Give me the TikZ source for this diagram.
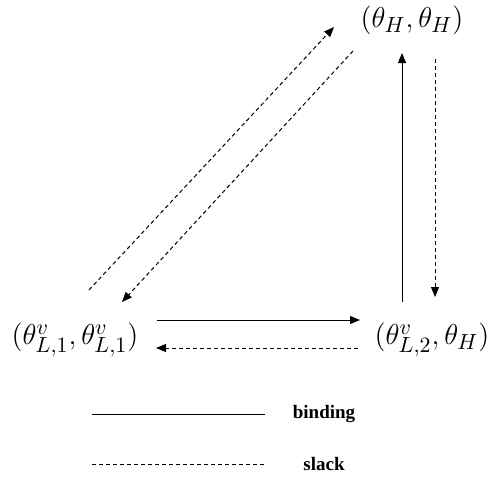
\documentclass[tikz,border=0pt]{standalone}
\usepackage{fontspec}
\usepackage{tikz}
\usetikzlibrary{positioning, arrows.meta, calc}
\newfontfamily\legendfont{Liberation Serif}

\begin{document}
\begin{tikzpicture}[x=0.5pt, y=-0.5pt,
    state/.style={inner sep=0pt, font=\fontsize{15}{18}\selectfont},
    binding/.style={line width=0.5pt, -{Triangle[length=5pt, width=4pt]}},
    slack/.style={line width=0.5pt, dash pattern=on 2pt off 1.5pt, -{Triangle[length=5pt, width=4pt]}},
    legendtext/.style={inner sep=0pt, font=\legendfont\bfseries\fontsize{9.5}{11}\selectfont}]
    \useasboundingbox (0,0) rectangle (496,479);
    % states
    \node[state] (top) at (412,20) {$(\theta_H,\theta_H)$};
    \node[state] (low) at (75,340) {$(\theta^v_{L,1},\theta^v_{L,1})$};
    \node[state] (mid) at (432,340) {$(\theta^v_{L,2},\theta_H)$};
    % transitions
    \draw[binding] ($(low)+(82,-20)$) -- ($(mid)+(-72,-20)$);
    \draw[slack] ($(mid)+(-74,8)$) -- ($(low)+(81,8)$);
    \draw[binding] ($(mid)+(-30,-38)$) -- ($(top)+(-10,33)$);
    \draw[slack] ($(top)+(23,39)$) -- ($(mid)+(3,-43)$);
    \draw[slack] ($(low)+(14,-50)$) -- ($(top)+(-78,7)$);
    \draw[slack] ($(top)+(-59,31)$) -- ($(low)+(47,-38)$);
    % legend
    \node[legendtext] (bind) at (324,414) {binding};
    \node[legendtext] (sl) at (324,464) {slack};
    \coordinate (bindstart) at (92,414);
    \coordinate (slstart) at (92,464);
    \draw[line width=0.5pt] (bindstart) -- ($(bind.west)+(-27,0)$);
    \draw[line width=0.5pt, dash pattern=on 2pt off 1.5pt] (slstart) -- ($(sl.west)+(-37,0)$);
\end{tikzpicture}
\end{document}
